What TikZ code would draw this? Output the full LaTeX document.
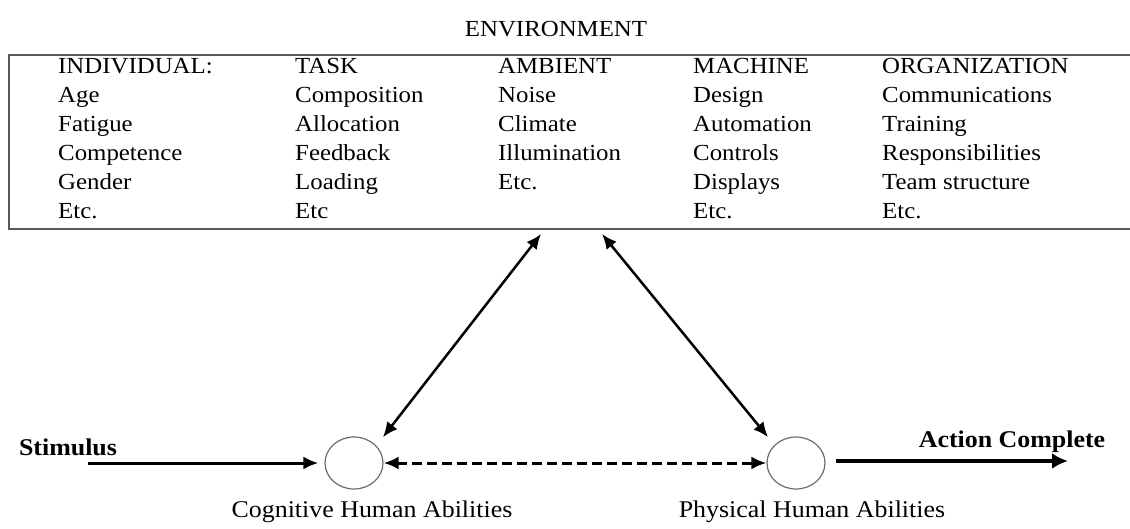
\documentclass[tikz,border=0pt]{standalone}
\usepackage{fontspec}
\setmainfont{Liberation Serif}[FakeStretch=1.08]
\usetikzlibrary{arrows.meta, positioning, shapes.geometric}

\begin{document}
\begin{tikzpicture}[x=1pt, y=-1pt, >={Latex[length=15pt,width=13pt]}]
	% Define styles
	\tikzstyle{col} = [anchor=north west, inner sep=0pt, align=left, font=\fontsize{23}{29}\selectfont]
	\tikzstyle{ability} = [draw=gray!85!black, line width=1.2pt, ellipse, minimum width=58pt, minimum height=52pt, inner sep=0pt]
	\tikzstyle{tag} = [inner sep=0pt, font=\fontsize{24}{28}\selectfont]
	\tikzstyle{link} = [draw, <->, line width=2.5pt]

	\useasboundingbox (0,0) rectangle (1130,529);

	% Title
	\node [anchor=base, inner sep=0pt, font=\fontsize{23}{28}\selectfont] (env) at (556,37) {ENVIRONMENT};

	% Factor columns
	\node [col] (individual) at (58,58) {INDIVIDUAL:\\Age\\Fatigue\\Competence\\Gender\\Etc.};
	\node [col] (task) at (295,58) {TASK\\Composition\\Allocation\\Feedback\\Loading\\Etc};
	\node [col] (ambient) at (498,58) {AMBIENT\\Noise\\Climate\\Illumination\\Etc.};
	\node [col] (machine) at (693,58) {MACHINE\\Design\\Automation\\Controls\\Displays\\Etc.};
	\node [col] (organization) at (882,58) {ORGANIZATION\\Communications\\Training\\Responsibilities\\Team structure\\Etc.};

	% Environment box, open past the right edge
	\draw [gray!70!black, line width=2pt] (1140,55) -- (9,55) -- (9,229) -- (1140,229);
	\coordinate (envL) at (541,234);
	\coordinate (envR) at (602,234);

	% Human abilities
	\node [ability] (cog) at (354,463) {};
	\node [ability] (phys) at (796,463) {};
	\node [tag] (cogtxt) at (372,512) {Cognitive Human Abilities};
	\node [tag] (phystxt) at (812,512) {Physical Human Abilities};

	% Input and output
	\coordinate (stim) at (88,463);
	\coordinate (done) at (1068,461);
	\node [tag, font=\fontsize{24}{28}\selectfont\bfseries] (stimtxt) at (68,447) {Stimulus};
	\node [tag, font=\fontsize{24}{28}\selectfont\bfseries] (donetxt) at (1012,442) {Action Complete};

	% Arrows
	\draw [link] (envL) -- ([xshift=8pt,yshift=7pt]cog.north east);
	\draw [link] (envR) -- ([xshift=-7pt,yshift=7pt]phys.north west);
	\draw [->, line width=3pt, shorten >=6pt] (stim) -- (cog);
	\draw [<->, line width=3pt, dash pattern=on 10pt off 5pt] (cog) -- (phys);
	\draw [->, line width=4.5pt, shorten <=10pt, >={Latex[length=16pt,width=16pt]}] (phys.east |- done) -- (done);

\end{tikzpicture}
\end{document}
